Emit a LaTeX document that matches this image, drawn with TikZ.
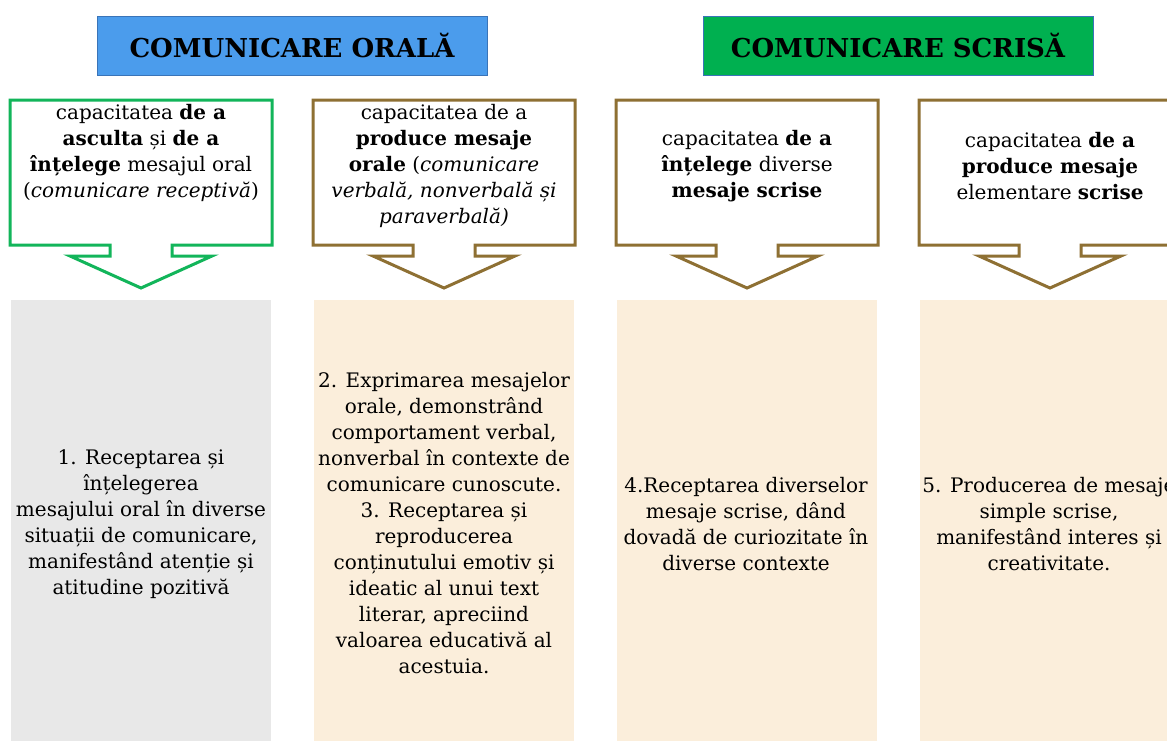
\documentclass[tikz,border=0pt]{standalone}
\usepackage{fontspec}
\setmainfont{DejaVu Serif}
\definecolor{hblue}{HTML}{4B9CEC}
\definecolor{hblueline}{HTML}{3A74B8}
\definecolor{hgreen}{HTML}{00B050}
\definecolor{cgreen}{HTML}{12B55A}
\definecolor{cgold}{HTML}{8E7033}
\definecolor{pgray}{HTML}{E8E8E8}
\definecolor{pbeige}{HTML}{FBEEDB}
\newcommand\calloutbox[2]{%
  \draw[line width=3pt, draw=#1, line join=miter]
    (#2-131,100) -- (#2+131,100) -- (#2+131,245) -- (#2+31,245) -- (#2+31,256)
    -- (#2+71,256) -- (#2,288) -- (#2-71,256) -- (#2-31,256) -- (#2-31,245)
    -- (#2-131,245) -- cycle;}
\tikzset{
  hdr/.style={draw=hblueline, line width=0.8pt, minimum width=390, minimum height=59,
    inner sep=0, font=\fontsize{26}{30}\selectfont\bfseries},
  txt/.style={align=center, inner sep=0, font=\fontsize{20}{26}\selectfont},
}
\begin{document}
\begin{tikzpicture}[x=1pt,y=-1pt]
\useasboundingbox (0,0) rectangle (1167,740);
\fill[white] (0,0) rectangle (1167,740);
% headers
\node[hdr, fill=hblue] (oral) at (292,45.5) {COMUNICARE ORALĂ};
\node[hdr, fill=hgreen] (scris) at (898,45.5) {COMUNICARE SCRISĂ};
% callouts
\calloutbox{cgreen}{141}
\calloutbox{cgold}{444}
\calloutbox{cgold}{747}
\calloutbox{cgold}{1050}
\node[txt] (c1) at (141,153) {capacitatea \textbf{de a}\\ \textbf{asculta} și \textbf{de a}\\ \textbf{înțelege} mesajul oral\\ (\textit{comunicare receptivă})};
\node[txt] (c2) at (444,166) {capacitatea de a\\ \textbf{produce mesaje}\\ \textbf{orale} (\textit{comunicare}\\ \textit{verbală, nonverbală și}\\ \textit{paraverbală)}};
\node[txt] (c3) at (747,166) {capacitatea \textbf{de a}\\ \textbf{înțelege} diverse\\ \textbf{mesaje scrise}};
\node[txt] (c4) at (1050,166) {capacitatea \textbf{de a}\\ \textbf{produce mesaje}\\ elementare \textbf{scrise}};
% panels
\fill[pgray] (11,300) rectangle (271,745);
\fill[pbeige] (314,300) rectangle (574,745);
\fill[pbeige] (617,300) rectangle (877,745);
\fill[pbeige] (920,300) rectangle (1180,745);
\node[txt] (p1) at (141,524) {1. Receptarea și\\ înțelegerea\\ mesajului oral în diverse\\ situații de comunicare,\\ manifestând atenție și\\ atitudine pozitivă};
\node[txt] (p2) at (444,523.5) {2. Exprimarea mesajelor\\ orale, demonstrând\\ comportament verbal,\\ nonverbal în contexte de\\ comunicare cunoscute.\\ 3. Receptarea și\\ reproducerea\\ conținutului emotiv și\\ ideatic al unui text\\ literar, apreciind\\ valoarea educativă al\\ acestuia.};
\node[txt] (p3) at (746,524) {4.Receptarea diverselor\\ mesaje scrise, dând\\ dovadă de curiozitate în\\ diverse contexte};
\node[txt] (p4) at (1049,524) {5. Producerea de mesaje\\ simple scrise,\\ manifestând interes și\\ creativitate.};
\end{tikzpicture}
\end{document}
